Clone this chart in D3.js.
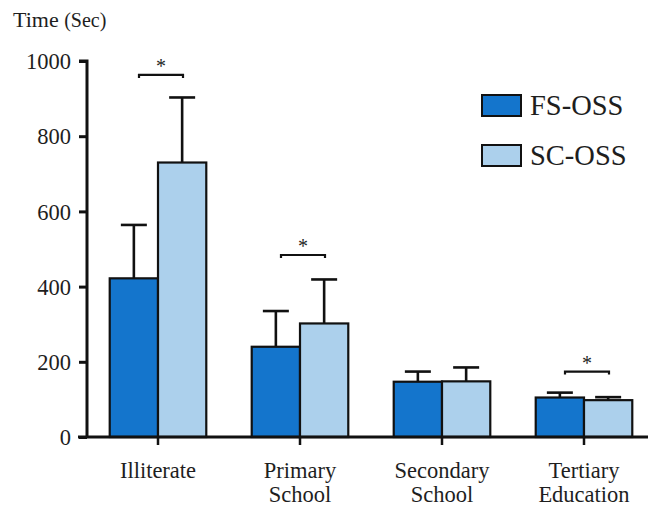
<!DOCTYPE html>
<html>
<head>
<meta charset="utf-8">
<script src="https://cdn.jsdelivr.net/npm/d3@7"></script>
<style>
  body { margin: 0; background: #fff; }
  svg { display: block; }
  svg text { font-family: "Liberation Serif", "Times New Roman", Tinos, "DejaVu Serif", serif; fill: #1e1e1e; }
</style>
</head>
<body>
<svg id="chart" width="648" height="506"></svg>
<script>
// ---- data ----
const categories = [["Illiterate"], ["Primary", "School"], ["Secondary", "School"], ["Tertiary", "Education"]];
const seriesNames = ["FS-OSS", "SC-OSS"];
const fsMeans = [422, 240, 147, 105];
const fsErr   = [142, 95, 27, 13];
const scMeans = [730, 302, 148, 98];
const scErr   = [173, 117, 37, 8];
const yTicks  = [0, 200, 400, 600, 800, 1000];
// significance marks: category index and bracket level (Sec)
const sigCats   = [0, 1, 3];
const sigLevels = [963, 484, 174];

const colors = ["#1475cc", "#acd0ec"];

const svg = d3.select("#chart");
const x0 = d3.scaleBand().domain(d3.range(categories.length)).range([87, 655]).paddingInner(0.32).paddingOuter(0.16);
const x1 = d3.scaleBand().domain(seriesNames).range([0, x0.bandwidth()]);
const y = d3.scaleLinear().domain([0, 1000]).range([437, 61]);

const rows = categories.map((c, i) => ({
  i,
  vals: [
    { s: seriesNames[0], m: fsMeans[i], e: fsErr[i], c: colors[0] },
    { s: seriesNames[1], m: scMeans[i], e: scErr[i], c: colors[1] }
  ]
}));

// error bars (behind bars)
const g = svg.append("g");
rows.forEach(r => {
  r.vals.forEach(v => {
    const cx = x0(r.i) + x1(v.s) + x1.bandwidth() / 2;
    g.append("line").attr("x1", cx).attr("x2", cx).attr("y1", y(v.m)).attr("y2", y(v.m + v.e))
      .attr("stroke", "#111").attr("stroke-width", 2.6);
    g.append("line").attr("x1", cx - 13).attr("x2", cx + 13).attr("y1", y(v.m + v.e)).attr("y2", y(v.m + v.e))
      .attr("stroke", "#111").attr("stroke-width", 2.6);
  });
});

// bars
rows.forEach(r => {
  g.selectAll(null).data(r.vals).enter().append("rect")
    .attr("x", v => x0(r.i) + x1(v.s))
    .attr("y", v => y(v.m))
    .attr("width", x1.bandwidth())
    .attr("height", v => y(0) - y(v.m))
    .attr("fill", v => v.c)
    .attr("stroke", "#111")
    .attr("stroke-width", 2.2);
});

// y axis
const yAxis = svg.append("g").attr("transform", "translate(87,0)")
  .call(d3.axisLeft(y).tickValues(yTicks).tickSize(8).tickPadding(8).tickFormat(d3.format("d")));
yAxis.attr("font-family", null);
yAxis.select(".domain").attr("stroke", "#111").attr("stroke-width", 3).attr("d", `M-8,${y(1000)}H0V${y(0)}`);
yAxis.selectAll(".tick line").attr("stroke", "#111").attr("stroke-width", 3);
yAxis.selectAll(".tick text").attr("font-size", 22.5).attr("fill", "#1e1e1e").attr("dy", "0.34em");

// x axis
svg.append("line").attr("x1", 78).attr("x2", 648).attr("y1", y(0)).attr("y2", y(0))
  .attr("stroke", "#111").attr("stroke-width", 3);
rows.forEach(r => {
  const cx = x0(r.i) + x0.bandwidth() / 2;
  svg.append("line").attr("x1", cx).attr("x2", cx).attr("y1", y(0)).attr("y2", y(0) + 8)
    .attr("stroke", "#111").attr("stroke-width", 2.5);
  const t = svg.append("text").attr("x", cx).attr("y", 478).attr("text-anchor", "middle").attr("font-size", 22.5);
  categories[r.i].forEach((line, k) => {
    t.append("tspan").attr("x", cx).attr("dy", k === 0 ? 0 : 24).text(line);
  });
});

// significance brackets
sigCats.forEach((ci, k) => {
  const cx = x0(ci) + x0.bandwidth() / 2 + 3;
  const yy = y(sigLevels[k]);
  svg.append("path").attr("d", `M${cx - 22},${yy + 3}V${yy}H${cx + 22}V${yy + 3}`)
    .attr("fill", "none").attr("stroke", "#111").attr("stroke-width", 2.2);
  svg.append("text").attr("x", cx).attr("y", yy - 2).attr("text-anchor", "middle")
    .attr("font-size", 20).text("*");
});

// title
const title = svg.append("text").attr("x", 13).attr("y", 27).attr("font-size", 22);
title.append("tspan").text("Time ");
title.append("tspan").attr("font-size", 20).text("(Sec)");

// legend
seriesNames.forEach((s, i) => {
  const ly = 95 + i * 50;
  svg.append("rect").attr("x", 482).attr("y", ly).attr("width", 39).attr("height", 21)
    .attr("fill", colors[i]).attr("stroke", "#111").attr("stroke-width", 2);
  svg.append("text").attr("x", 530).attr("y", ly + 20).attr("font-size", 28.5).text(s);
});
</script>
</body>
</html>
